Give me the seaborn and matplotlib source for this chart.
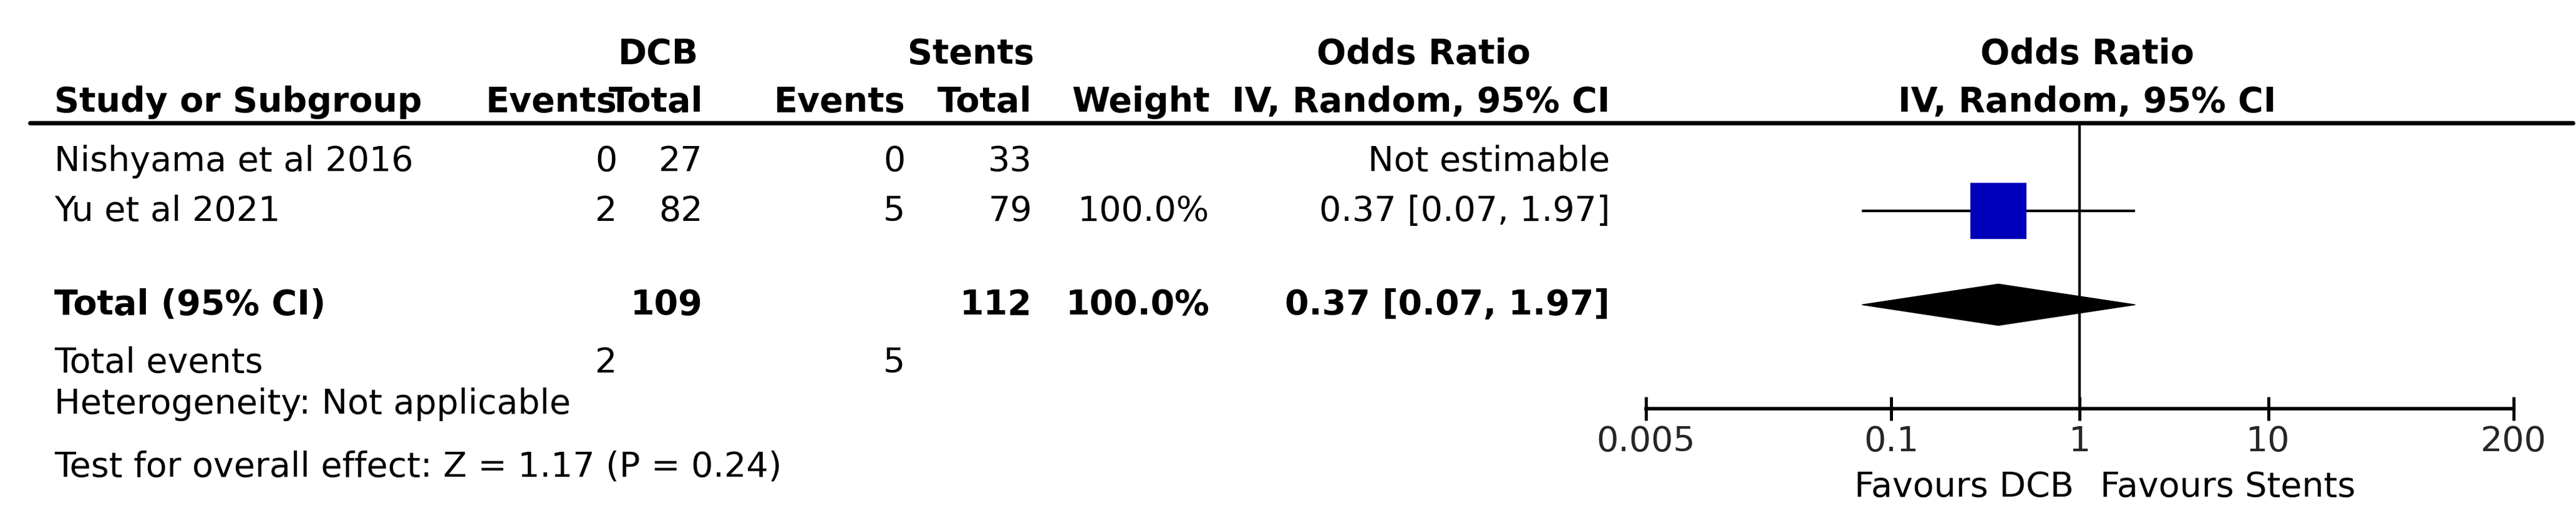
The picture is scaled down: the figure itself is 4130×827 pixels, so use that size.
import matplotlib
matplotlib.use("Agg")
import matplotlib.pyplot as plt
import seaborn as sns
import numpy as np

sns.set_theme(style="white")
plt.rcParams['font.family'] = ['DejaVu Sans']

studies = ["Nishyama et al 2016", "Yu et al 2021"]
dcb_events = [0, 2]
dcb_total = [27, 82]
stent_events = [0, 5]
stent_total = [33, 79]
weights = ["", "100.0%"]
or_text = ["Not estimable", "0.37 [0.07, 1.97]"]
or_val = [np.nan, 0.37]
or_lo = [np.nan, 0.07]
or_hi = [np.nan, 1.97]
total_dcb, total_stent = 109, 112
pooled_or, pooled_lo, pooled_hi = 0.37, 0.07, 1.97
pooled_text = "0.37 [0.07, 1.97]"
total_ev_dcb, total_ev_stent = 2, 5
xticks = [0.005, 0.1, 1, 10, 200]
xticklabels = ["0.005", "0.1", "1", "10", "200"]

W, H = 1565, 313
fig = plt.figure(figsize=(41.3, 8.28), dpi=100)
FS = 40

def T(x, y, s, ha="left", bold=False):
    fig.text(x / W, 1 - y / H, s, ha=ha, va="center", fontsize=FS,
             fontweight="bold" if bold else "normal", color="black")

# headers
T(400, 33, "DCB", "center", True)
T(590, 33, "Stents", "center", True)
T(865, 33, "Odds Ratio", "center", True)
T(1268, 33, "Odds Ratio", "center", True)
T(33, 62, "Study or Subgroup", bold=True)
T(375, 62, "Events", "right", True)
T(427, 62, "Total", "right", True)
T(550, 62, "Events", "right", True)
T(627, 62, "Total", "right", True)
T(735, 62, "Weight", "right", True)
T(978, 62, "IV, Random, 95% CI", "right", True)
T(1268, 62, "IV, Random, 95% CI", "center", True)
fig.add_artist(plt.Line2D([18 / W, 1563 / W], [1 - 75 / H] * 2, color="black", lw=5,
                          transform=fig.transFigure))

rows_y = [98, 128]
for i, y in enumerate(rows_y):
    T(33, y, studies[i])
    T(375, y, str(dcb_events[i]), "right")
    T(427, y, str(dcb_total[i]), "right")
    T(550, y, str(stent_events[i]), "right")
    T(627, y, str(stent_total[i]), "right")
    T(735, y, weights[i], "right")
    T(978, y, or_text[i], "right")

T(33, 185, "Total (95% CI)", bold=True)
T(427, 185, str(total_dcb), "right", True)
T(627, 185, str(total_stent), "right", True)
T(735, 185, "100.0%", "right", True)
T(978, 185, pooled_text, "right", True)
T(33, 220, "Total events")
T(375, 220, str(total_ev_dcb), "right")
T(550, 220, str(total_ev_stent), "right")
T(33, 245, "Heterogeneity: Not applicable")
T(33, 283, "Test for overall effect: Z = 1.17 (P = 0.24)")

# forest axes
x0, x1 = 1000, 1527
ax = fig.add_axes([x0 / W, 0, (x1 - x0) / W, 1])
ax.set_xscale("log")
ax.set_xlim(xticks[0], xticks[-1])
ax.set_ylim(H, 0)
ax.patch.set_alpha(0)
for s in ["top", "left", "right"]:
    ax.spines[s].set_visible(False)
ax.spines["bottom"].set_position(("data", 248))
ax.spines["bottom"].set_linewidth(4)
ax.spines["bottom"].set_color("black")
ax.spines["bottom"].set_bounds(xticks[0], xticks[-1])
ax.set_xticks(xticks)
ax.set_xticklabels(xticklabels, fontsize=FS)
ax.minorticks_off()
ax.tick_params(axis="x", direction="inout", length=28, width=3.5, color="black", pad=4, bottom=True)
ax.set_yticks([])
ax.vlines(1, 75, 248, color="black", lw=3)

for i, y in enumerate(rows_y):
    if np.isnan(or_val[i]):
        continue
    ax.hlines(y, or_lo[i], or_hi[i], color="black", lw=3, zorder=2)
    ax.scatter([or_val[i]], [y], marker="s", s=4200, color="#0000BB", zorder=3, linewidths=0)

h = 12.5
ax.fill([pooled_lo, pooled_or, pooled_hi, pooled_or], [185, 185 - h, 185, 185 + h],
        color="black", zorder=3)

T(1260, 295, "Favours DCB", "right")
T(1276, 295, "Favours Stents", "left")

fig.savefig("out.png", dpi=100)
